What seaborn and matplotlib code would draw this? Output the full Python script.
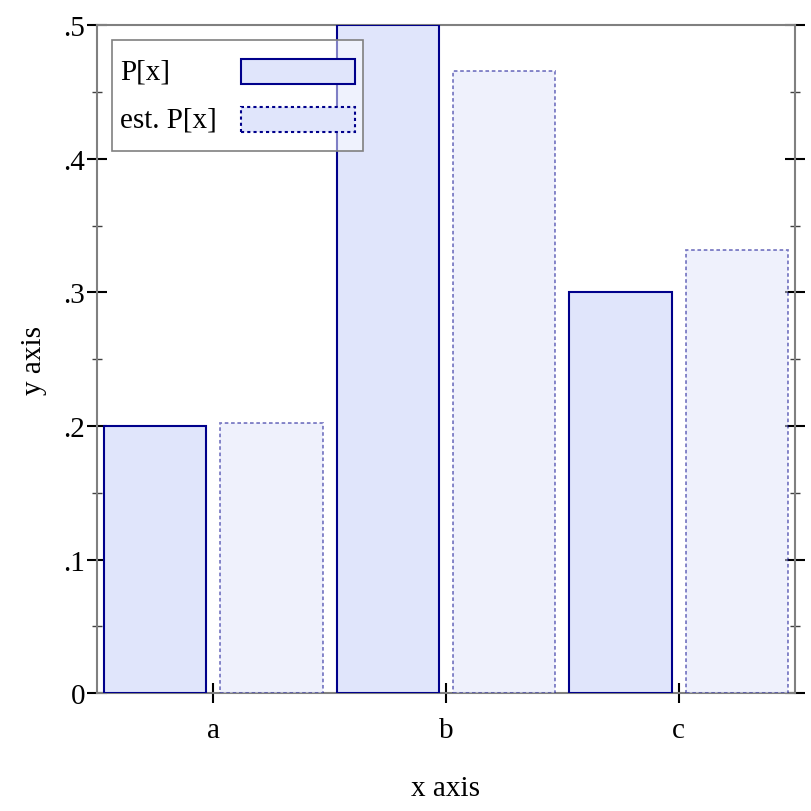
import pandas as pd
import matplotlib
matplotlib.use("Agg")
import matplotlib.pyplot as plt
import matplotlib.patches as mpatches
from matplotlib.ticker import MultipleLocator, FuncFormatter
import seaborn as sns

# Datos
categorias = ["a", "b", "c"]
p_real = [0.2, 0.5, 0.3]
p_estimada = [0.202, 0.466, 0.332]
series = ["P[x]", "est. P[x]"]

df = pd.DataFrame({
    "x": categorias * 2,
    "y": p_real + p_estimada,
    "serie": [series[0]] * 3 + [series[1]] * 3,
})

sns.set_theme(style="white")
plt.rcParams.update({
    "font.family": ["Liberation Serif", "DejaVu Serif"],
    "text.color": "black",
    "axes.labelcolor": "black",
    "xtick.color": "black",
    "ytick.color": "black",
})

AZUL_OSCURO = "#00008B"
RELLENO = "#E0E5FB"
TAM = 21

fig = plt.figure(figsize=(8.12, 8.12), dpi=100)
ax = fig.add_axes([0.1195, 0.1452, 0.8595, 0.8225])

sns.barplot(data=df, x="x", y="y", hue="serie", order=categorias,
            hue_order=series, width=1.0, gap=0.12, palette=[RELLENO, RELLENO],
            legend=False, ax=ax, errorbar=None)

for barra in ax.containers[0]:
    barra.set_facecolor(RELLENO)
    barra.set_edgecolor(AZUL_OSCURO)
    barra.set_linewidth(1.5)
    barra.set_zorder(3)
for barra in ax.containers[1]:
    barra.set_facecolor((0.878, 0.898, 0.984, 0.5))
    barra.set_edgecolor((0.0, 0.0, 0.545, 0.5))
    barra.set_linestyle((0, (2, 1.5)))
    barra.set_linewidth(1.3)
    barra.set_zorder(3)

ax.set_xlim(-0.5, 2.5)
ax.set_ylim(0, 0.5)

for lado in ["left", "right", "top", "bottom"]:
    ax.spines[lado].set_color("#808080")
    ax.spines[lado].set_linewidth(1.5)
    ax.spines[lado].set_zorder(2)

ax.yaxis.set_major_locator(MultipleLocator(0.1))
ax.yaxis.set_minor_locator(MultipleLocator(0.05))
ax.yaxis.set_major_formatter(FuncFormatter(
    lambda v, pos: "0" if abs(v) < 1e-9 else ("%.1f" % v).lstrip("0")))

ax.tick_params(axis="y", which="major", direction="inout", length=15, width=1.5,
               color="black", left=True, right=True, labelsize=TAM, pad=1)
ax.tick_params(axis="y", which="minor", direction="inout", length=7.5, width=1,
               color="#404040", left=True, right=True)
ax.tick_params(axis="x", which="major", direction="inout", length=15, width=1.5,
               color="black", bottom=True, top=False, labelsize=TAM, pad=10)

ax.set_xlabel("x axis", fontsize=TAM, labelpad=23)
ax.set_ylabel("y axis", fontsize=TAM, labelpad=12)

# Leyenda manual: texto a la izquierda, muestras a la derecha
h1 = mpatches.Patch(facecolor=RELLENO, edgecolor=AZUL_OSCURO, linewidth=1.5)
h2 = mpatches.Patch(facecolor=RELLENO, edgecolor=AZUL_OSCURO, linewidth=1.5,
                    linestyle=(0, (1.5, 1.5)))
leg = ax.legend([h1, h2], series, loc="upper left", fontsize=TAM,
                markerfirst=False, handlelength=3.9, handleheight=0.97,
                fancybox=False, borderaxespad=0.5, borderpad=0.28,
                labelspacing=0.04, handletextpad=1.0)
leg.set_zorder(5)
marco = leg.get_frame()
marco.set_alpha(None)
marco.set_facecolor((1, 1, 1, 0.5))
marco.set_edgecolor("#808080")
marco.set_linewidth(1.2)

# alinear textos a la izquierda y muestras a la derecha, filas más altas
for columna in leg._legend_handle_box.get_children():
    columna.align = "left"
    for fila in columna.get_children():
        fila.mode = "expand"
        fila.width = 235
        fila.height = 47
        fila.align = "center"

fig.savefig("out.png", dpi=100)
